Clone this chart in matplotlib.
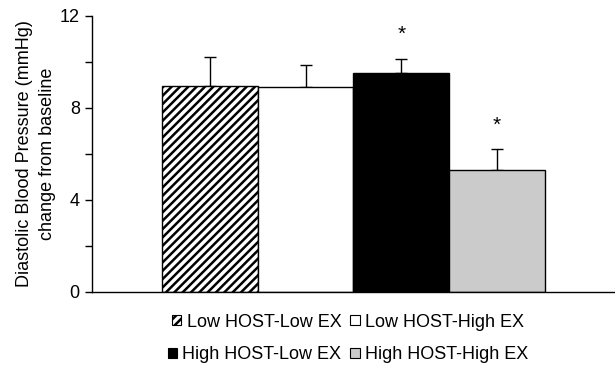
import matplotlib
matplotlib.use("Agg")
import matplotlib.pyplot as plt
from matplotlib.patches import Patch

categories = ["Low HOST-Low EX", "Low HOST-High EX", "High HOST-Low EX", "High HOST-High EX"]
means = [8.95, 8.9, 9.5, 5.28]
errors = [1.27, 0.95, 0.63, 0.93]
significant = [False, False, True, True]
yticks = [0, 4, 8, 12]
minor_yticks = [2, 6, 10]

plt.rcParams['font.family'] = ['Liberation Sans', 'DejaVu Sans']
plt.rcParams['hatch.linewidth'] = 1.8

colors = ["white", "white", "black", "#cbcbcb"]
hatches = ["////", None, None, None]

fig = plt.figure(figsize=(6.15, 3.69), dpi=100)
ax = fig.add_axes([0.149, 0.209, 0.849, 0.748])

x = list(range(len(categories)))
bars = ax.bar(x, means, width=1.0, color=colors, edgecolor="black", linewidth=1.0,
              zorder=2)
for b, h in zip(bars, hatches):
    if h:
        b.set_hatch(h)
ax.errorbar(x, means, yerr=[[0]*len(means), errors], fmt="none", ecolor="black",
            elinewidth=1.0, capsize=4.5, capthick=1.0, zorder=1)

for xi, m, e, s in zip(x, means, errors, significant):
    if s:
        ax.text(xi, m + e + 1.05, "*", ha="center", va="center", fontsize=15)

ax.set_xlim(-1.235, 4.22)
ax.set_ylim(0, 12)
ax.set_yticks(yticks)
ax.set_yticks(minor_yticks, minor=True)
ax.set_yticklabels([str(t) for t in yticks], fontsize=13)
ax.tick_params(axis='y', which='both', direction='out', length=5, width=1)
ax.set_xticks([])
for sp in ["top", "right"]:
    ax.spines[sp].set_visible(False)
ax.spines["left"].set_linewidth(1.0)
ax.spines["bottom"].set_linewidth(1.0)
ax.set_ylabel("Diastolic Blood Pressure (mmHg)\nchange from baseline", fontsize=13,
              linespacing=1.4, labelpad=3)

handles = [Patch(facecolor=c, edgecolor="black", hatch=h, linewidth=0.8)
           for c, h in zip(colors, hatches)]
common = dict(frameon=False, fontsize=13, handlelength=0.5, handleheight=0.5,
              handletextpad=0.3, columnspacing=0.5, borderpad=0, borderaxespad=0)
leg1 = fig.legend(handles[:2], categories[:2], ncol=2, loc="center",
                  bbox_to_anchor=(0.566, 0.127), **common)
leg2 = fig.legend(handles[2:], categories[2:], ncol=2, loc="center",
                  bbox_to_anchor=(0.566, 0.038), **common)

fig.savefig("out.png", dpi=100)
